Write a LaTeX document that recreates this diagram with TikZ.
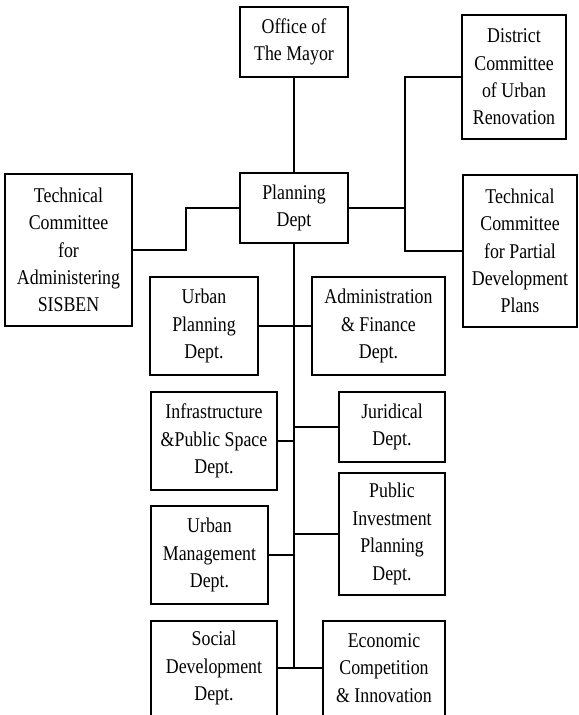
\documentclass[tikz,border=0pt]{standalone}
\usepackage{fontspec}
\setmainfont{Liberation Serif}[FakeStretch=0.85]
\begin{document}
\begin{tikzpicture}[x=1bp,y=-1bp,
  lbl/.style={inner sep=0pt, align=center,
    font=\fontsize{21bp}{27.4bp}\selectfont},
  box/.style={lbl, draw, line width=2bp, rectangle},
  link/.style={line width=2bp}]
\useasboundingbox (0,0) rectangle (579,715);
\clip (0,0) rectangle (579,715);

% top levels
\node[box, minimum width=108bp, minimum height=70bp] (mayor) at (294,42) {Office of\\The Mayor};
\node[box, minimum width=104bp, minimum height=124bp] (district) at (514,77) {District\\Committee\\of Urban\\Renovation};
\node[box, minimum width=108bp, minimum height=70bp] (planning) at (294,208) {Planning\\Dept};
\node[box, minimum width=127bp, minimum height=152bp] (sisben) at (68.5,250) {Technical\\Committee\\for\\Administering\\SISBEN};
\node[box, minimum width=114bp, minimum height=152bp] (partial) at (520,251) {Technical\\Committee\\for Partial\\Development\\Plans};

% departments
\node[box, minimum width=108bp, minimum height=98bp] (urbplan) at (204,326) {Urban\\Planning\\Dept.};
\node[box, minimum width=133bp, minimum height=98bp] (admin) at (378.5,326) {Administration\\\& Finance\\Dept.};
\node[box, minimum width=126bp, minimum height=98bp] (infra) at (214,441) {Infrastructure\\\&Public Space\\Dept.};
\node[box, minimum width=106bp, minimum height=70bp] (juridical) at (392,427) {Juridical\\Dept.};
\node[box, minimum width=106bp, minimum height=122bp] (pubinv) at (392,534) {Public\\Investment\\Planning\\Dept.};
\node[box, minimum width=117bp, minimum height=98bp] (urbmgmt) at (209.5,555) {Urban\\Management\\Dept.};
\node[lbl, minimum width=126bp, minimum height=94bp] (social) at (214,668) {Social\\Development\\Dept.};
\node[lbl, minimum width=122bp, minimum height=94bp] (economic) at (384,668) {Economic\\Competition\\\& Innovation};

% open-bottomed boxes running off the lower edge
\draw[link] ([yshift=-8pt]social.south west) -- (social.north west) -- (social.north east) -- ([yshift=-8pt]social.south east);
\draw[link] ([yshift=-8pt]economic.south west) -- (economic.north west) -- (economic.north east) -- ([yshift=-8pt]economic.south east);

% connectors
\coordinate (rj) at (405,208);
\coordinate (lj) at (186,208);
\coordinate (trunkend) at (294,668);

\draw[link] (mayor.south) -- (planning.north);
\draw[link] (planning.east) -- (rj) |- (district.west);
\draw[link] (rj) |- (partial.west);
\draw[link] (planning.west) -- (lj) |- (sisben.east);
\draw[link] (planning.south) -- (trunkend);

\draw[link] (urbplan.east) -- (urbplan.east -| trunkend);
\draw[link] (admin.west) -- (admin.west -| trunkend);
\draw[link] (infra.east) -- (infra.east -| trunkend);
\draw[link] (juridical.west) -- (juridical.west -| trunkend);
\draw[link] (pubinv.west) -- (pubinv.west -| trunkend);
\draw[link] (urbmgmt.east) -- (urbmgmt.east -| trunkend);
\draw[link] (social.east) -- (economic.west);
\end{tikzpicture}
\end{document}
